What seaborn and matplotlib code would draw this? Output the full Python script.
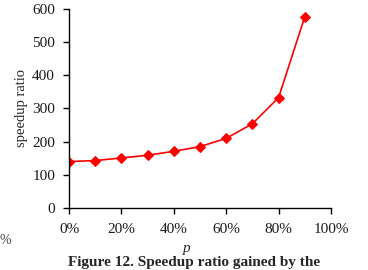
import pandas as pd
import seaborn as sns
import matplotlib.pyplot as plt
from matplotlib.ticker import FuncFormatter

# fraction p (%) and speedup ratio
p_pct = [0, 10, 20, 30, 40, 50, 60, 70, 80, 90]
speedup = [140, 143, 151, 159, 171, 185, 210, 254, 333, 577]

data = pd.DataFrame({'p': p_pct, 'speedup': speedup})

sns.set_style("ticks")
plt.rcParams['font.family'] = ['Liberation Serif', 'DejaVu Serif']

fig = plt.figure(figsize=(3.68, 2.70), dpi=100)
ax = fig.add_axes([0.1875, 0.2296, 0.712, 0.7371])

sns.lineplot(x='p', y='speedup', data=data, ax=ax, color='#ff0000',
             marker='D', markersize=5.5, markeredgecolor='#ff0000',
             linewidth=1.2)

ax.set_xlim(0, 100)
ax.set_ylim(0, 600)
ax.set_xticks([0, 20, 40, 60, 80, 100])
ax.set_yticks([0, 100, 200, 300, 400, 500, 600])
ax.xaxis.set_major_formatter(FuncFormatter(lambda v, pos: '%d%%' % v))
ax.tick_params(axis='both', labelsize=11, length=4, width=1, color='black',
               labelcolor='#1a1a1a')
ax.tick_params(axis='x', pad=7)
ax.tick_params(axis='y', pad=6)
for s in ['left', 'bottom']:
    ax.spines[s].set_color('black')
    ax.spines[s].set_linewidth(1)
sns.despine(ax=ax)

ax.set_ylabel('speedup ratio', fontsize=10.5)
ax.yaxis.set_label_coords(-0.155, 0.5)
ax.set_xlabel('p', fontsize=11, style='italic')
ax.xaxis.set_label_coords(0.45, -0.17)

fig.text(0.0, 0.108, '%', fontsize=10, color='#444444', ha='left', va='center')
fig.text(0.527, 0.026, 'Figure 12. Speedup ratio gained by the', fontsize=11,
         fontweight='bold', ha='center', va='center')

fig.savefig('out.png', dpi=100)
